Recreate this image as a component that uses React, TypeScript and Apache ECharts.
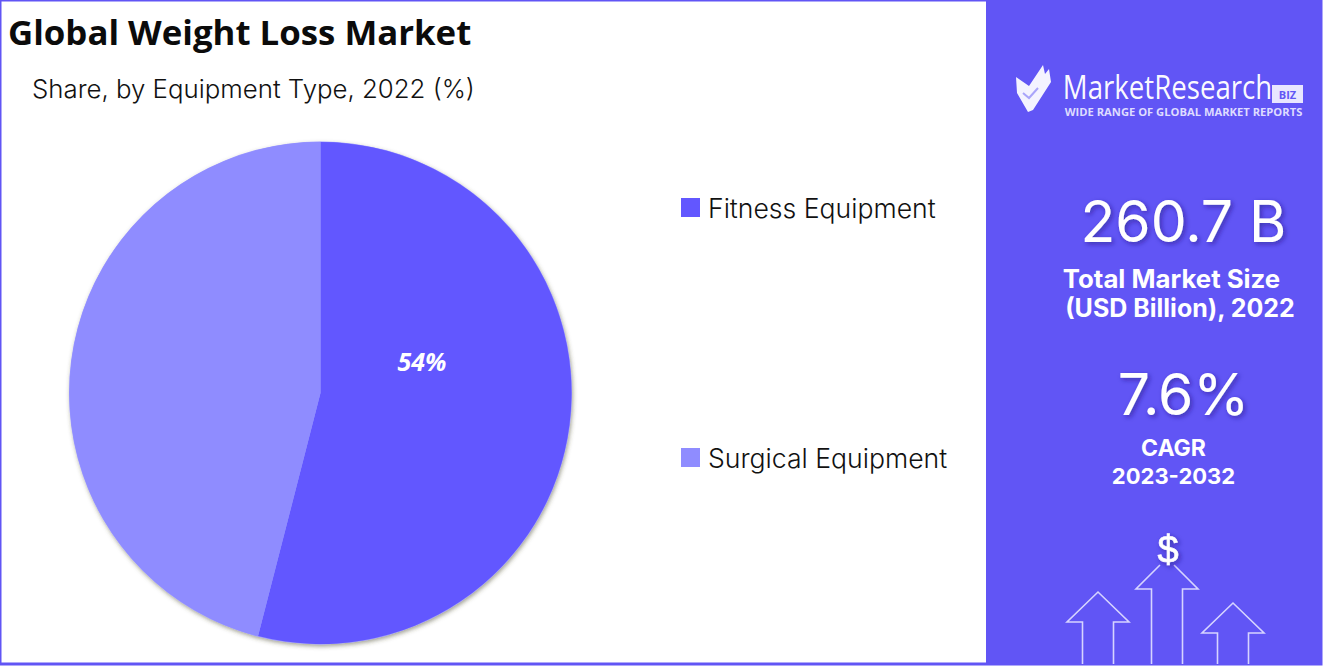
import React, { useEffect, useRef } from "react";
import * as echarts from "echarts";

const chartTitle = "Global Weight Loss Market";
const chartSubtitle = "Share, by Equipment Type, 2022 (%)";
const categories = ["Fitness Equipment", "Surgical Equipment"];
const shares = [54, 46];
const sliceColors = ["#6257FF", "#8F8CFF"];
const panelColor = "#6155F5";
const marketSize = "260.7 B";
const marketSizeLabel = ["Total Market Size", "(USD Billion), 2022"];
const cagr = "7.6%";
const cagrLabel = ["CAGR", "2023-2032"];

const shadow = { textShadowColor: "rgba(30,20,120,0.55)", textShadowBlur: 5, textShadowOffsetX: 2, textShadowOffsetY: 2 };

const txt = (x: number, y: number, text: string, font: string, size: number, weight: any, extra: any = {}, scaleX = 1) => ({
  type: "text",
  x,
  y,
  scaleX,
  style: { text, fontFamily: font, fontSize: size, fontWeight: weight, fill: "#fff", textAlign: "center", textVerticalAlign: "middle", ...extra },
});

const arrowStyle = { stroke: "#D6D4FF", lineWidth: 1.6, fill: "none" };

const arrow = (cx: number, top: number, bottom: number) => ({
  type: "polyline",
  shape: {
    points: [
      [cx - 15.5, bottom],
      [cx - 15.5, top + 30],
      [cx - 31, top + 30],
      [cx, top],
      [cx + 31, top + 30],
      [cx + 15.5, top + 30],
      [cx + 15.5, bottom],
    ],
  },
  style: arrowStyle,
});

const splitArrow = (cx: number, top: number, bottom: number, gap: number) =>
  [-1, 1].map((s) => ({
    type: "polyline",
    shape: {
      points: [
        [cx + s * 15.5, bottom],
        [cx + s * 15.5, top + 31],
        [cx + s * 31, top + 31],
        [cx + s * gap, top + gap],
      ],
    },
    style: arrowStyle,
  }));

export default function App() {
  const ref = useRef<HTMLDivElement>(null);
  useEffect(() => {
    document.body.style.margin = "0";
    const chart = echarts.init(ref.current!, undefined, { renderer: "svg" });
    chart.setOption({
      animation: false,
      backgroundColor: "#fff",
      title: [
        { text: chartTitle, left: 8, top: 14, padding: 0, textStyle: { fontFamily: "Open Sans", fontWeight: 700, fontSize: 34.8, color: "#0b0b0b" } },
        { text: chartSubtitle, left: 32, top: 75, padding: 0, textStyle: { fontFamily: "Inter", fontWeight: 300, fontSize: 25.8, color: "#111" } },
      ],
      legend: {
        orient: "vertical",
        left: 681,
        top: 194,
        padding: 0,
        itemWidth: 19,
        itemHeight: 19,
        itemGap: 223,
        icon: "rect",
        data: categories,
        textStyle: { fontFamily: "Inter", fontWeight: 300, fontSize: 26.6, color: "#111", padding: [0, 0, 0, 3] },
      },
      series: [
        {
          type: "pie",
          z: 1,
          center: [320.5, 393],
          radius: [0, 251.5],
          silent: true,
          label: { show: false },
          labelLine: { show: false },
          itemStyle: { color: "#9A97FF", shadowColor: "rgba(70,70,40,0.5)", shadowBlur: 4, shadowOffsetX: 1, shadowOffsetY: 2 },
          data: [{ name: "rim", value: 1 }],
        },
        {
          type: "pie",
          z: 2,
          center: [320.5, 393],
          radius: [0, 251],
          startAngle: 90,
          clockwise: true,
          silent: true,
          labelLine: { show: false },
          labelLayout: (p: any) => (p.dataIndex === 0 ? { x: 422, y: 361, align: "center", verticalAlign: "middle" } : {}),
          data: categories.map((name, i) => ({
            name,
            value: shares[i],
            itemStyle: { color: sliceColors[i] },
            label:
              i === 0
                ? { show: true, position: "inside", formatter: "{c}%", color: "#fff", fontFamily: "Open Sans", fontStyle: "italic", fontWeight: 700, fontSize: 25 }
                : { show: false },
          })),
        },
      ],
      graphic: {
        elements: [
          { type: "rect", z: -1, shape: { x: 0, y: 0, width: 1321, height: 664 }, style: { fill: "none", stroke: panelColor, lineWidth: 3 } },
          { type: "rect", shape: { x: 986, y: 0, width: 335, height: 664 }, style: { fill: panelColor } },
          // logo
          { type: "polygon", shape: { points: [[1016, 77], [1029, 86], [1043, 65], [1045, 74], [1049, 69], [1051, 82], [1033, 110], [1028, 112], [1017, 93]] }, style: { fill: "#F4F3FF" } },
          { type: "polyline", shape: { points: [[1023, 93], [1029, 98], [1038, 88]] }, style: { stroke: "#A9A4FA", lineWidth: 2, fill: "none" } },
          txt(1167.5, 87, "MarketResearch", "Open Sans", 32.5, 400, { opacity: 0.97 }, 0.85),
          { type: "rect", shape: { x: 1272, y: 85, width: 31, height: 18 }, style: { fill: "#E8E6FF" } },
          txt(1287.5, 94.5, "BIZ", "Open Sans", 11, 700, { fill: panelColor }),
          txt(1183.5, 112, "WIDE RANGE OF GLOBAL MARKET REPORTS", "Open Sans", 10, 700, { fill: "#DEDCFF" }, 1.12),
          // KPIs
          txt(1183.5, 221, marketSize, "Inter", 57, 400, shadow),
          txt(1171.5, 278, marketSizeLabel[0], "Inter", 25.8, 700),
          txt(1180, 308, marketSizeLabel[1], "Inter", 25, 700),
          txt(1183.5, 394, cagr, "Inter", 57, 400, shadow),
          txt(1173.5, 448, cagrLabel[0], "Inter", 23, 700),
          txt(1173.5, 476, cagrLabel[1], "Inter", 22, 700),
          // arrows
          arrow(1098, 592, 664),
          ...splitArrow(1167, 558, 664, 7),
          arrow(1233, 603, 664),
          txt(1168, 550, "$", "Liberation Sans", 38, 400, { ...shadow, stroke: "#fff", lineWidth: 0.6 }),
        ],
      },
    });
    return () => chart.dispose();
  }, []);
  return <div ref={ref} style={{ width: 1325, height: 668 }} />;
}
